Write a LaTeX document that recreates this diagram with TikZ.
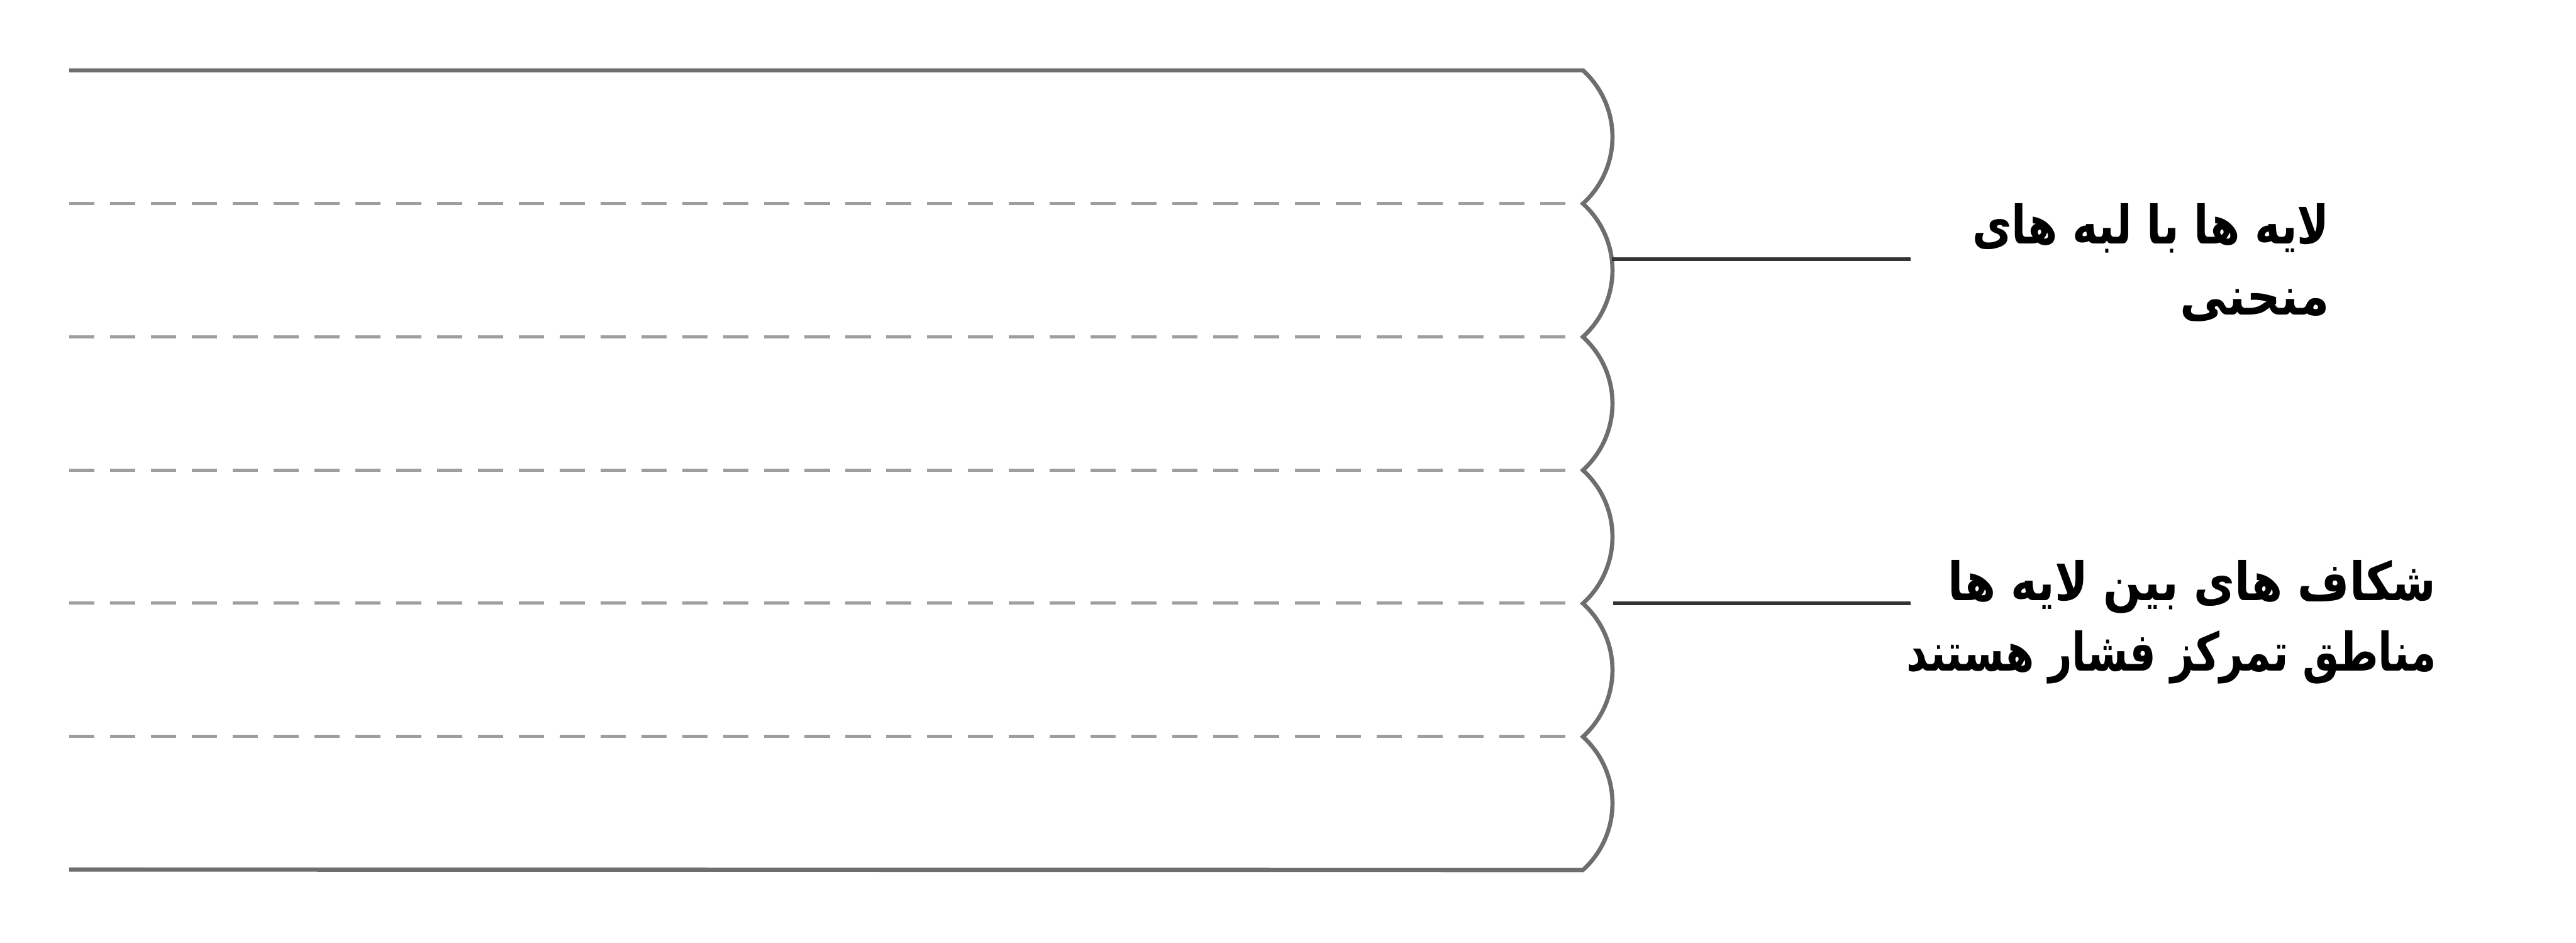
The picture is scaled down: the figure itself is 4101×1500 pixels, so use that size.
\documentclass[tikz,border=0pt]{standalone}
\usepackage{fontspec}
\usepackage{graphicx}
\TeXXeTstate=1
\newfontfamily\fa[Script=Arabic]{DejaVu Sans}
\begin{document}
\begin{tikzpicture}[x=0.01cm,y=0.01cm,
  outline/.style={draw=black!57,line width=1.9pt},
  layerline/.style={draw=black!38,line width=1.4pt,dash pattern=on 11.4pt off 7.1pt},
  leader/.style={draw=black!80,line width=1.7pt},
  label/.style={font=\fa\bfseries\fontsize{24}{32}\selectfont,align=right,inner sep=0pt,text=black}]
\useasboundingbox[fill=white] (0,0) rectangle (4101,1500);
% layer boundaries
\foreach \yy in {1176,964,752,540,328}
  \draw[layerline] (110,\yy) -- (2505,\yy);
% outline with curved edges
\draw[outline,line join=miter] (110,1388) -- (2520,1388)
  arc[start angle=47.84,end angle=-47.84,radius=1.43cm]
  arc[start angle=47.84,end angle=-47.84,radius=1.43cm]
  arc[start angle=47.84,end angle=-47.84,radius=1.43cm]
  arc[start angle=47.84,end angle=-47.84,radius=1.43cm]
  arc[start angle=47.84,end angle=-47.84,radius=1.43cm]
  arc[start angle=47.84,end angle=-47.84,radius=1.43cm]
  -- (110,116);
% leader points
\coordinate (edge) at (2566,1087);
\coordinate (edgeend) at (3042,1087);
\coordinate (gap) at (2568,540);
\coordinate (gapend) at (3042,540);
% labels
\node[label,anchor=east] (t1) at (3709,1082) {\scalebox{0.81}[1]{\beginR لایه ها با لبه های\endR}\\\scalebox{0.89}[1]{\beginR منحنی\endR}};
\node[label,anchor=east] (t2) at (3879,510) {\scalebox{0.84}[1]{\beginR شکاف های بین لایه ها\endR}\\\scalebox{0.775}[1]{\beginR مناطق تمرکز فشار هستند\endR}};
\draw[leader] (edge) -- (edgeend);
\draw[leader] (gap) -- (gapend);
\end{tikzpicture}
\end{document}
